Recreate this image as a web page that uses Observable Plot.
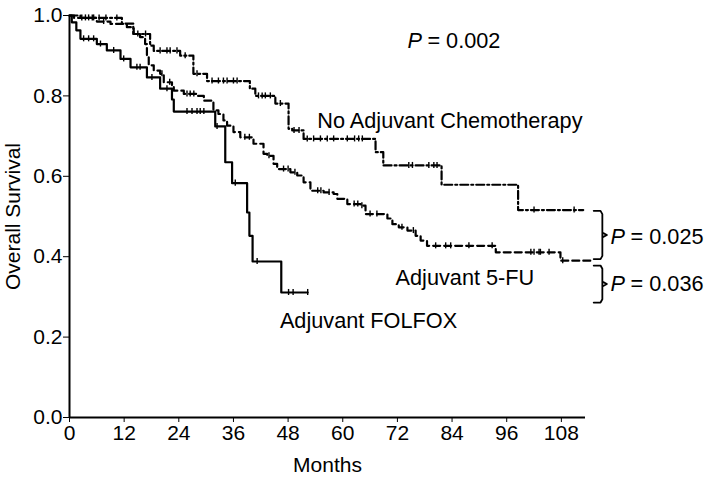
<!DOCTYPE html>
<html>
<head>
<meta charset="utf-8">
<script src="https://cdn.jsdelivr.net/npm/d3@7"></script>
<script src="https://cdn.jsdelivr.net/npm/@observablehq/plot@0.6"></script>
<style>
  html, body { margin: 0; padding: 0; background: #fff; }
  #chart { width: 714px; height: 479px; }
</style>
</head>
<body>
<div id="chart"></div>
<script>
// ---- Data (months, survival) ----
const folfoxTimes = [0, 0.5, 1.5, 2.4, 6.0, 8.2, 11.2, 13.4, 17.0, 19.9, 22.5, 22.9, 32.0, 34.2, 35.7, 39.0, 39.5, 40.2, 46.5, 52.3];
const folfoxSurv  = [1.0, 0.983, 0.963, 0.942, 0.929, 0.913, 0.892, 0.871, 0.846, 0.818, 0.791, 0.761, 0.724, 0.635, 0.583, 0.51, 0.452, 0.388, 0.311, 0.311];
const folfoxCensor = [3.1, 4.2, 5.3, 6.8, 9.7, 11.9, 14.8, 15.5, 18.1, 21.4, 25.8, 26.9, 28.0, 28.7, 29.5, 32.4, 36.4, 41.2, 48.1, 49.1, 52.3];

const fuTimes = [0, 1.0, 6.0, 9.0, 12.6, 14.1, 15.5, 16.6, 17.0, 17.4, 18.5, 19.9, 20.7, 22.5, 22.9, 25.1, 28.0, 29.5, 31.6, 32.7, 33.8, 34.6, 36.0, 37.5, 40.4, 42.6, 43.4, 44.8, 45.6, 48.5, 50.0, 51.4, 52.9, 55.8, 58.0, 58.8, 61.0, 63.9, 65.0, 69.8, 70.9, 72.3, 74.2, 76.0, 77.1, 78.5, 93.6, 107.8, 114.5];
const fuSurv  = [1.0, 0.994, 0.985, 0.979, 0.971, 0.954, 0.946, 0.929, 0.896, 0.876, 0.863, 0.855, 0.834, 0.826, 0.813, 0.805, 0.800, 0.788, 0.764, 0.755, 0.739, 0.726, 0.710, 0.697, 0.681, 0.656, 0.651, 0.631, 0.618, 0.610, 0.602, 0.585, 0.564, 0.560, 0.556, 0.544, 0.531, 0.527, 0.506, 0.495, 0.481, 0.473, 0.465, 0.452, 0.440, 0.427, 0.411, 0.390, 0.390];
const fuCensor = [2.7, 4.2, 5.3, 7.5, 20.3, 22.0, 25.8, 26.5, 27.3, 38.5, 39.5, 43.8, 47.0, 48.0, 49.5, 54.5, 55.2, 57.0, 62.5, 63.3, 64.2, 66.0, 67.5, 73.0, 75.5, 80.4, 82.6, 83.7, 87.7, 92.8, 101.3, 102.0, 103.1, 103.4, 105.3, 108.3];

const noAdjTimes = [0, 2.4, 11.5, 14.0, 17.7, 18.5, 24.3, 27.2, 30.2, 39.6, 40.8, 45.2, 48.1, 48.9, 51.4, 67.2, 68.9, 81.7, 98.5, 112.8];
const noAdjSurv  = [1.0, 0.994, 0.980, 0.954, 0.925, 0.912, 0.900, 0.855, 0.837, 0.818, 0.800, 0.781, 0.718, 0.714, 0.693, 0.660, 0.627, 0.579, 0.516, 0.516];
const noAdjCensor = [3.5, 5.0, 6.5, 8.0, 10.4, 15.0, 16.7, 19.9, 21.4, 22.1, 23.6, 25.4, 28.0, 31.3, 32.7, 33.8, 34.6, 36.0, 36.8, 41.5, 42.3, 43.0, 44.1, 46.3, 49.3, 50.4, 52.2, 53.6, 55.1, 56.6, 58.0, 61.0, 62.6, 63.5, 64.3, 74.5, 75.3, 78.9, 80.0, 80.7, 102.0, 110.8];

const xTicks = [0, 12, 24, 36, 48, 60, 72, 84, 96, 108];
const yTicks = [0, 0.2, 0.4, 0.6, 0.8, 1.0];

const groupLabels = ["No Adjuvant Chemotherapy", "Adjuvant 5-FU", "Adjuvant FOLFOX"];
const pValues = ["0.002", "0.025", "0.036"];

// ---- Annotation layout (data units) ----
const labelPos = [
  {x: 54.4, y: 0.737},
  {x: 71.6, y: 0.348},
  {x: 46.2, y: 0.239}
];
const pPos = [
  {x: 74.2, y: 0.936},
  {x: 118.8, y: 0.448},
  {x: 118.8, y: 0.332}
];
const brackets = [
  {top: 0.514, bottom: 0.394},
  {top: 0.378, bottom: 0.286}
];

// ---- Build tables ----
function steps(times, surv) {
  return times.map((t, i) => ({t, s: surv[i]}));
}
function survAt(times, surv, t) {
  let s = surv[0];
  for (let i = 0; i < times.length; i++) if (times[i] <= t) s = surv[i];
  return s;
}
function censors(ct, times, surv) {
  return ct.map(t => ({t, s: survAt(times, surv, t)}));
}
const curves = [
  {steps: steps(noAdjTimes, noAdjSurv), cens: censors(noAdjCensor, noAdjTimes, noAdjSurv), dash: "8,3,2,3"},
  {steps: steps(fuTimes, fuSurv), cens: censors(fuCensor, fuTimes, fuSurv), dash: "7,4"},
  {steps: steps(folfoxTimes, folfoxSurv), cens: censors(folfoxCensor, folfoxTimes, folfoxSurv), dash: null}
];
const tickHalf = 0.0075;

const bracketPts = [];
brackets.forEach((b, i) => {
  const mid = (b.top + b.bottom) / 2;
  const x0 = 115.1, x1 = 117.0, x2 = 118.0;
  [[x0, b.top], [x1 - 0.4, b.top], [x1, b.top - 0.008], [x1, mid - 0.006], [x2, mid], [x1, mid + 0.006], [x1, b.bottom + 0.008], [x1 - 0.4, b.bottom], [x0, b.bottom]]
    .forEach(([x, y]) => bracketPts.push({x, y, id: i}));
});

const annFont = 21.7;
const marks = [];
curves.forEach(c => {
  marks.push(Plot.line(c.steps, {x: "t", y: "s", curve: "step-after", stroke: "#000", strokeWidth: 2.2, strokeDasharray: c.dash || undefined}));
  marks.push(Plot.ruleX(c.cens, {x: "t", y1: d => d.s - tickHalf, y2: d => d.s + tickHalf, stroke: "#000", strokeWidth: 1.4}));
});
marks.push(Plot.ruleX([0], {stroke: "#000", strokeWidth: 2}));
marks.push(Plot.ruleY([0], {stroke: "#000", strokeWidth: 2}));
marks.push(Plot.line(bracketPts, {x: "x", y: "y", z: "id", stroke: "#000", strokeWidth: 1.8}));
marks.push(Plot.text(groupLabels.map((t, i) => ({t, ...labelPos[i]})), {x: "x", y: "y", text: "t", textAnchor: "start", fontSize: annFont, fill: "#000"}));
marks.push(Plot.text(pPos, {x: "x", y: "y", text: () => "P", textAnchor: "start", fontSize: annFont, fontStyle: "italic", fill: "#000"}));
marks.push(Plot.text(pValues.map((v, i) => ({v, ...pPos[i]})), {x: "x", y: "y", text: d => "= " + d.v, textAnchor: "start", dx: 20, fontSize: annFont, fill: "#000"}));

const chart = Plot.plot({
  width: 714,
  height: 479,
  marginLeft: 69,
  marginRight: 129,
  marginTop: 15,
  marginBottom: 62,
  style: {fontFamily: "'Liberation Sans', Arial, sans-serif", fontSize: "21px", color: "#000", background: "#fff"},
  x: {domain: [0, 113.3], ticks: xTicks, tickSize: 5, tickPadding: 3, label: "Months", labelAnchor: "center", labelOffset: 54, labelArrow: "none"},
  y: {domain: [0, 1], ticks: yTicks, tickFormat: d3.format(".1f"), tickSize: 6, tickPadding: 1, label: "Overall Survival", labelAnchor: "center", labelOffset: 64, labelArrow: "none"},
  marks
});
document.getElementById("chart").appendChild(chart);
</script>
</body>
</html>
